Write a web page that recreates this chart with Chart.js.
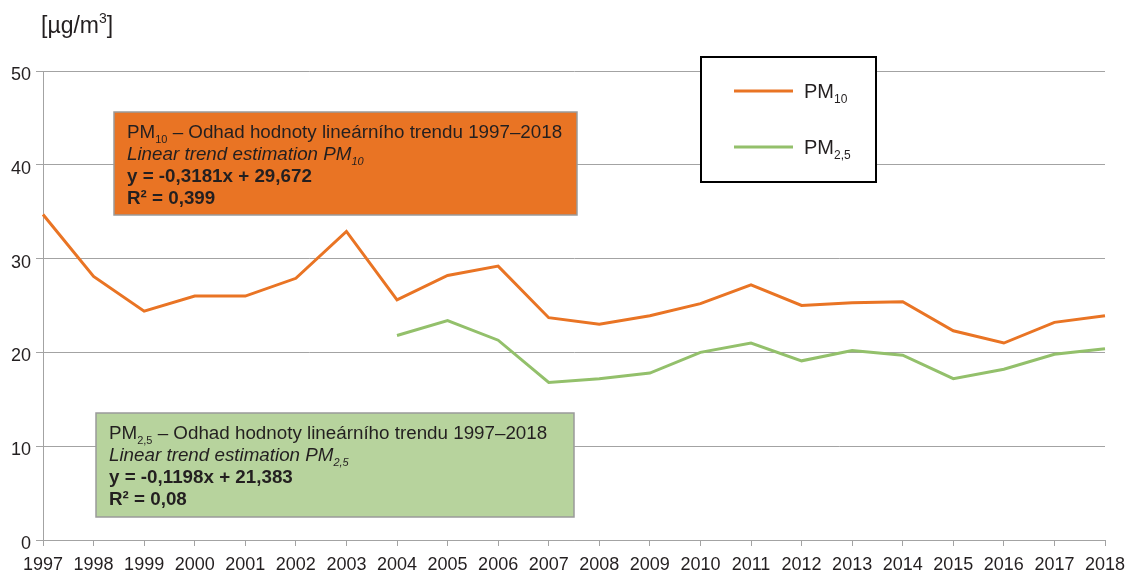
<!DOCTYPE html>
<html>
<head>
<meta charset="utf-8">
<script src="https://cdn.jsdelivr.net/npm/chart.js@4/dist/chart.umd.min.js"></script>
<style>
body { margin: 0; background: #fff; }
#wrap { width: 1129px; height: 575px; }
</style>
</head>
<body>
<div id="wrap"><canvas id="myChart" width="1129" height="575"></canvas></div>
<script>
var years = ['1997','1998','1999','2000','2001','2002','2003','2004','2005','2006','2007',
             '2008','2009','2010','2011','2012','2013','2014','2015','2016','2017','2018'];
var pm10 = [34.7, 28.1, 24.4, 26.0, 26.0, 27.9, 32.9, 25.6, 28.2, 29.2, 23.7,
            23.0, 23.9, 25.2, 27.2, 25.0, 25.3, 25.4, 22.3, 21.0, 23.2, 23.9];
var pm25 = [null, null, null, null, null, null, null, 21.8, 23.4, 21.3, 16.8,
            17.2, 17.8, 20.0, 21.0, 19.1, 20.2, 19.7, 17.2, 18.2, 19.8, 20.4];
var yTicks = [0, 10, 20, 30, 40, 50];

// text of the trend boxes, [text, style, subscript]
var trend10 = [
    [['PM', '', false], ['10', '', true], [' \u2013 Odhad hodnoty line\u00e1rn\u00edho trendu 1997\u20132018', '', false]],
    [['Linear trend estimation PM', 'italic', false], ['10', 'italic', true]],
    [['y = -0,3181x + 29,672', 'bold', false]],
    [['R\u00b2 = 0,399', 'bold', false]]
];
var trend25 = [
    [['PM', '', false], ['2,5', '', true], [' \u2013 Odhad hodnoty line\u00e1rn\u00edho trendu 1997\u20132018', '', false]],
    [['Linear trend estimation PM', 'italic', false], ['2,5', 'italic', true]],
    [['y = -0,1198x + 21,383', 'bold', false]],
    [['R\u00b2 = 0,08', 'bold', false]]
];

var FONT = '"Liberation Sans", Arial, sans-serif';
var ORANGE = '#E97424';
var GREEN = '#93C06B';
var GRID = '#a3a3a3';

function drawRich(ctx, x, y, parts, size, color)
{
    ctx.fillStyle = color;
    ctx.textBaseline = 'alphabetic';
    ctx.textAlign = 'left';
    for (var i = 0; i < parts.length; i++) {
        var p = parts[i];
        var s = p[2] ? Math.round(size * 0.58) : size;
        ctx.font = p[1] + ' ' + s + 'px ' + FONT;
        ctx.fillText(p[0], x, p[2] ? y + 5 : y);
        x += ctx.measureText(p[0]).width;
    }
}

function drawBox(ctx, x, y, w, h, fill, lines, tx, ty)
{
    ctx.save();
    ctx.fillStyle = fill;
    ctx.fillRect(x, y, w, h);
    ctx.strokeStyle = '#9a9a9a';
    ctx.lineWidth = 1.5;
    ctx.strokeRect(x, y, w, h);
    for (var i = 0; i < lines.length; i++) {
        drawRich(ctx, tx, ty + i * 22, lines[i], 18.8, '#231f20');
    }
    ctx.restore();
}

var extras = {
    id: 'extras',
    afterDraw: function (chart) {
        var ctx = chart.ctx;
        ctx.save();
        // unit
        drawRich(ctx, 41, 33, [['[\u00b5g/m', '', false]], 23, '#231f20');
        ctx.font = '23px ' + FONT;
        var w = ctx.measureText('[\u00b5g/m').width;
        ctx.font = '14px ' + FONT;
        ctx.fillText('3', 41 + w, 23);
        var w3 = ctx.measureText('3').width;
        ctx.font = '23px ' + FONT;
        ctx.fillText(']', 41 + w + w3, 33);

        drawBox(ctx, 114, 112, 463, 103, ORANGE, trend10, 127, 138);
        drawBox(ctx, 96, 413, 478, 104, '#B7D39D', trend25, 109, 439);

        // legend
        ctx.fillStyle = '#fff';
        ctx.fillRect(701, 57, 175, 125);
        ctx.strokeStyle = '#000';
        ctx.lineWidth = 2;
        ctx.strokeRect(701, 57, 175, 125);
        var ds = chart.data.datasets;
        var ly = [91, 147];
        for (var i = 0; i < ds.length; i++) {
            ctx.strokeStyle = ds[i].borderColor;
            ctx.lineWidth = 3;
            ctx.beginPath();
            ctx.moveTo(734, ly[i]);
            ctx.lineTo(793, ly[i]);
            ctx.stroke();
            var lab = ds[i].label;
            drawRich(ctx, 804, ly[i] + 7, [[lab.substring(0, 2), '', false], [lab.substring(2), '', true]], 20, '#231f20');
        }
        ctx.restore();
    }
};

var ctx = document.getElementById('myChart').getContext('2d');
var chart = new Chart(ctx, {
    type: 'line',
    data: {
        labels: years,
        datasets: [{
            label: 'PM10',
            data: pm10,
            borderColor: ORANGE,
            borderWidth: 3,
            pointRadius: 0,
            tension: 0
        }, {
            label: 'PM2,5',
            data: pm25,
            borderColor: GREEN,
            borderWidth: 3,
            pointRadius: 0,
            tension: 0
        }]
    },
    options: {
        responsive: false,
        animation: false,
        layout: { padding: { top: 71, right: 24, left: 0, bottom: 0 } },
        plugins: { legend: { display: false }, tooltip: { enabled: false } },
        scales: {
            x: {
                offset: false,
                grid: { drawOnChartArea: false, drawTicks: true, tickLength: 6, color: GRID },
                border: { color: GRID },
                ticks: { color: '#231f20', font: { size: 18, family: FONT }, padding: 8, maxRotation: 0, autoSkip: false },
                afterFit: function (s) { s.height = 35; s.paddingLeft = 0; s.paddingRight = 0; }
            },
            y: {
                min: 0,
                max: 50,
                afterBuildTicks: function (s) { s.ticks = yTicks.map(function (v) { return { value: v }; }); },
                grid: { color: GRID, tickLength: 7 },
                border: { color: GRID },
                ticks: { color: '#231f20', font: { size: 18, family: FONT }, padding: 5, labelOffset: 4 },
                afterFit: function (s) { s.width = 43; s.paddingTop = 0; s.paddingBottom = 0; }
            }
        }
    },
    plugins: [extras]
});
</script>
</body>
</html>
